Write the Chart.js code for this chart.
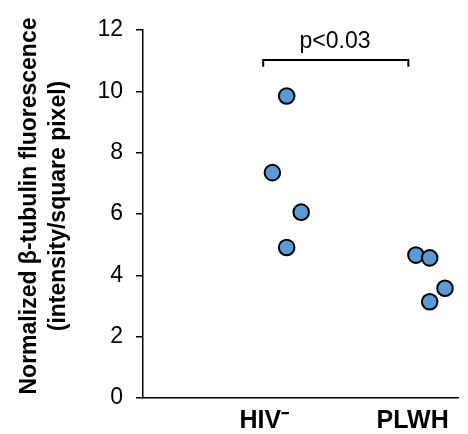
<!DOCTYPE html>
<html>
<head>
<meta charset="utf-8">
<script src="https://cdn.jsdelivr.net/npm/chart.js@4.4.1/dist/chart.umd.min.js"></script>
<style>
  body { margin: 0; background: #fff; }
  #wrap { width: 468px; height: 434px; }
</style>
</head>
<body>
<div id="wrap"><canvas id="myChart" width="468" height="434"></canvas></div>
<script>
const categories = ["HIV\u207B", "PLWH"];
const categoryPos = [1, 2];

// jittered x position and value of each dot
const hivX = [1.151, 1.055, 1.249, 1.151];
const hivY = [9.85, 7.35, 6.06, 4.91];
const plwhX = [2.022, 2.115, 2.218, 2.115];
const plwhY = [4.66, 4.57, 3.58, 3.14];

const yTicks = [0, 2, 4, 6, 8, 10, 12];
const yTitle = ["Normalized \u03B2-tubulin fluorescence", "(intensity/square pixel)"];

const bracketX = [0.993, 0.993, 1.971, 1.971];
const bracketY = [10.8, 11.02, 11.02, 10.8];
const pText = "p<0.03";
const pPos = [1.477, 11.4];

const fontFam = "'Liberation Sans', Arial, sans-serif";
const ctx = document.getElementById("myChart").getContext("2d");

const toPoints = (xs, ys) => xs.map((x, i) => ({ x: x, y: ys[i] }));

const annotations = {
    id: "annotations",
    afterDraw(chart) {
        const c = chart.ctx;
        const xs = chart.scales.x;
        const ys = chart.scales.y;
        c.save();
        c.fillStyle = "#000";
        c.font = "23px " + fontFam;
        c.textAlign = "center";
        c.textBaseline = "alphabetic";
        c.fillText(pText, xs.getPixelForValue(pPos[0]), ys.getPixelForValue(pPos[1]));

        // y axis title, two lines
        c.translate(36, 206);
        c.rotate(-Math.PI / 2);
        c.font = "bold 23px " + fontFam;
        c.fillText(yTitle[0], 0, 0);
        c.fillText(yTitle[1], 0, 29);
        c.restore();
    }
};

new Chart(ctx, {
    type: "scatter",
    data: {
        datasets: [
            {
                label: "bracket",
                data: toPoints(bracketX, bracketY),
                showLine: true,
                borderColor: "#000",
                borderWidth: 2,
                pointRadius: 0,
                fill: false,
            },
            {
                label: "HIV-",
                data: toPoints(hivX, hivY),
                backgroundColor: "#5B9BD5",
                borderColor: "#000",
                borderWidth: 2,
                pointRadius: 7.8,
                pointHoverRadius: 7.8,
            },
            {
                label: "PLWH",
                data: toPoints(plwhX, plwhY),
                backgroundColor: "#5B9BD5",
                borderColor: "#000",
                borderWidth: 2,
                pointRadius: 7.8,
                pointHoverRadius: 7.8,
            },
        ],
    },
    options: {
        responsive: false,
        animation: false,
        devicePixelRatio: 1,
        layout: { padding: { left: 0, right: 6, top: 30, bottom: 0 } },
        plugins: {
            legend: { display: false },
            tooltip: { enabled: false },
        },
        scales: {
            x: {
                type: "linear",
                min: 0.183,
                max: 2.307,
                afterFit: (scale) => { scale.height = 36; },
                afterBuildTicks: (scale) => {
                    scale.ticks = categoryPos.map(v => ({ value: v }));
                },
                ticks: {
                    color: "#000",
                    padding: 8,
                    font: { family: fontFam, size: 25, weight: "bold" },
                    callback: (value) => categories[categoryPos.indexOf(value)],
                },
                grid: { display: false, drawTicks: false },
                border: { display: true, color: "#000", width: 1.5 },
            },
            y: {
                min: 0,
                max: 12,
                afterFit: (scale) => { scale.width = 143; },
                afterBuildTicks: (scale) => {
                    scale.ticks = yTicks.map(v => ({ value: v }));
                },
                ticks: {
                    color: "#000",
                    padding: 13,
                    font: { family: fontFam, size: 23 },
                },
                grid: {
                    drawOnChartArea: false,
                    drawTicks: true,
                    tickLength: 7,
                    color: "#000",
                    lineWidth: 1.5,
                },
                border: { display: true, color: "#000", width: 1.5 },
            },
        },
    },
    plugins: [annotations],
});
</script>
</body>
</html>
